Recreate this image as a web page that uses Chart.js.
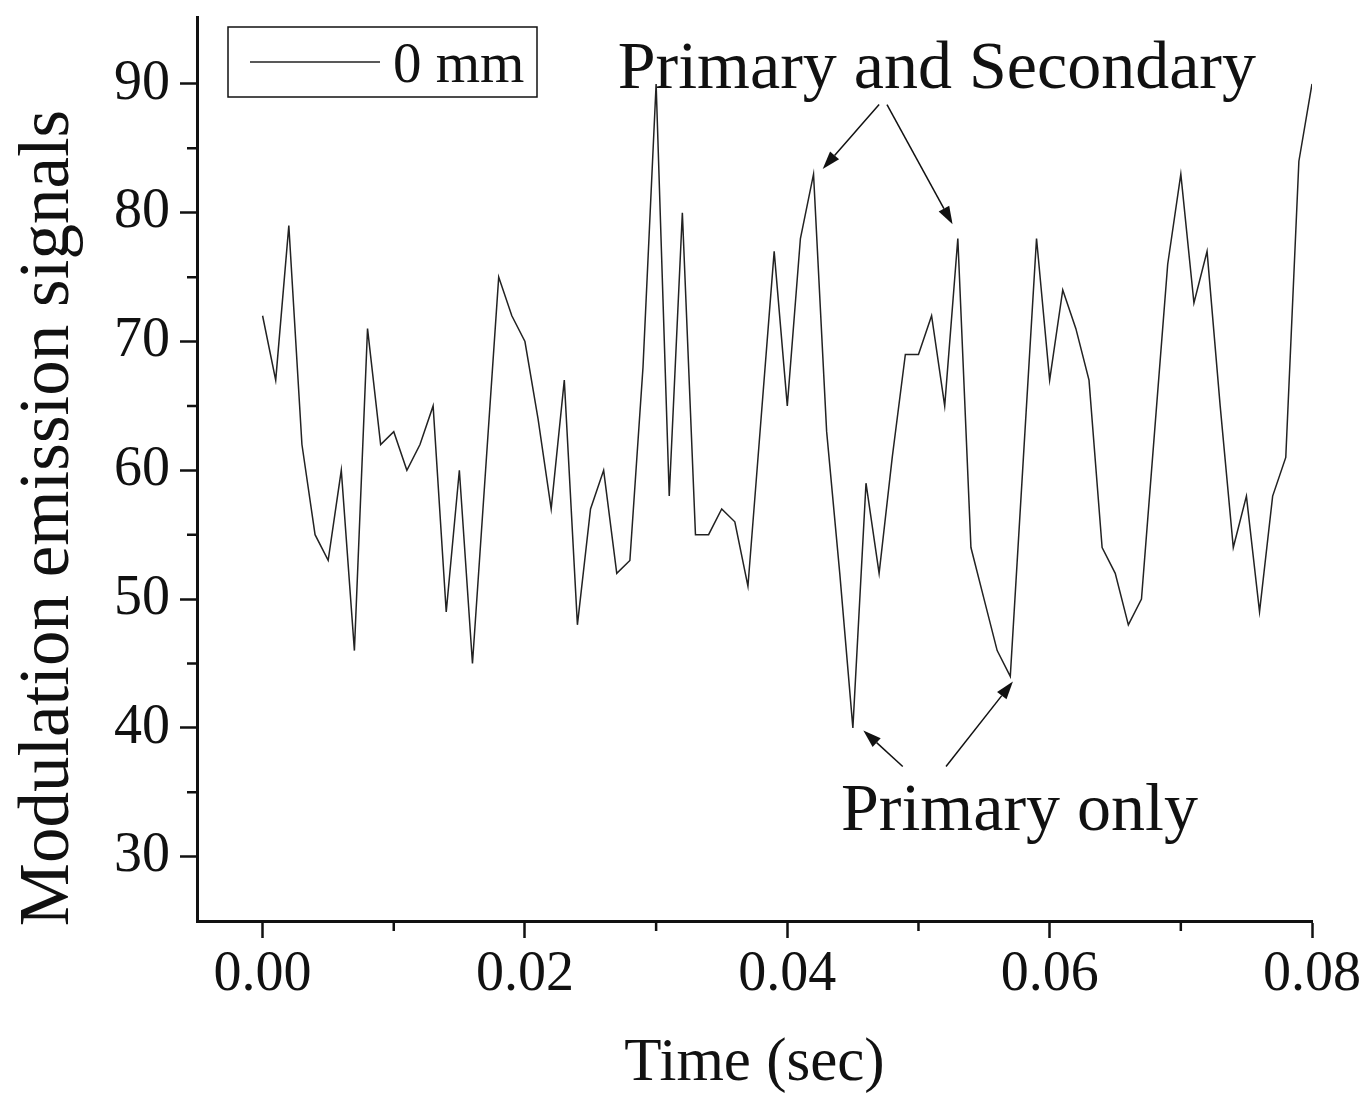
<!DOCTYPE html>
<html>
<head>
<meta charset="utf-8">
<script src="https://cdn.jsdelivr.net/npm/chart.js@4.4.1/dist/chart.umd.min.js"></script>
<style>
  html, body { margin: 0; padding: 0; background: #fff; }
  #wrap { width: 1365px; height: 1095px; position: relative; }
</style>
</head>
<body>
<div id="wrap"><canvas id="signalChart"></canvas></div>
<script>
// Data (one sample every 0.001 s)
const timeSec = [
  0.000, 0.001, 0.002, 0.003, 0.004, 0.005, 0.006, 0.007, 0.008, 0.009,
  0.010, 0.011, 0.012, 0.013, 0.014, 0.015, 0.016, 0.017, 0.018, 0.019,
  0.020, 0.021, 0.022, 0.023, 0.024, 0.025, 0.026, 0.027, 0.028, 0.029,
  0.030, 0.031, 0.032, 0.033, 0.034, 0.035, 0.036, 0.037, 0.038, 0.039,
  0.040, 0.041, 0.042, 0.043, 0.044, 0.045, 0.046, 0.047, 0.048, 0.049,
  0.050, 0.051, 0.052, 0.053, 0.054, 0.055, 0.056, 0.057, 0.058, 0.059,
  0.060, 0.061, 0.062, 0.063, 0.064, 0.065, 0.066, 0.067, 0.068, 0.069,
  0.070, 0.071, 0.072, 0.073, 0.074, 0.075, 0.076, 0.077, 0.078, 0.079,
  0.080
];
const signal = [
  72, 67, 79, 62, 55, 53, 60, 46, 71, 62,
  63, 60, 62, 65, 49, 60, 45, 60, 75, 72,
  70, 64, 57, 67, 48, 57, 60, 52, 53, 68,
  90, 58, 80, 55, 55, 57, 56, 51, 64, 77,
  65, 78, 83, 63, 52, 40, 59, 52, 61, 69,
  69, 72, 65, 78, 54, 50, 46, 44, 61, 78,
  67, 74, 71, 67, 54, 52, 48, 50, 63, 76,
  83, 73, 77, 65, 54, 58, 49, 58, 61, 84,
  90
];
const xTickValues = [0, 0.02, 0.04, 0.06, 0.08];
const xMinorTicks = [0.01, 0.03, 0.05, 0.07];
const yTickValues = [30, 40, 50, 60, 70, 80, 90];
const yMinorTicks = [35, 45, 55, 65, 75, 85];
const seriesLabel = "0 mm";
const xTitle = "Time (sec)";
const yTitle = "Modulation emission signals";

// annotation texts and arrows, in data units: [fromX, fromY, toX, toY]
const notes = [
  { text: "Primary and Secondary", x: 0.0514, y: 89.7,
    arrows: [[0.0470, 88.4, 0.0427, 83.4], [0.0476, 88.4, 0.0526, 79.1]] },
  { text: "Primary only", x: 0.0577, y: 32.1,
    arrows: [[0.0488, 37.0, 0.0458, 39.8], [0.0521, 37.0, 0.0572, 43.6]] }
];

const serif = "'Liberation Serif', 'DejaVu Serif', serif";
const ink = "#111";

function arrow(ctx, x1, y1, x2, y2) {
  const ang = Math.atan2(y2 - y1, x2 - x1);
  const len = 18, half = 6;
  const bx = x2 - len * Math.cos(ang), by = y2 - len * Math.sin(ang);
  ctx.beginPath();
  ctx.moveTo(x1, y1);
  ctx.lineTo(bx, by);
  ctx.stroke();
  ctx.beginPath();
  ctx.moveTo(x2, y2);
  ctx.lineTo(bx + half * Math.sin(ang), by - half * Math.cos(ang));
  ctx.lineTo(bx - half * Math.sin(ang), by + half * Math.cos(ang));
  ctx.closePath();
  ctx.fill();
}

// minor ticks, titles, legend box and the arrows
const decorations = {
  id: "decorations",
  afterDraw(chart) {
    const { ctx, chartArea, scales: { x, y } } = chart;
    ctx.save();
    ctx.strokeStyle = ink;
    ctx.fillStyle = ink;

    ctx.lineWidth = 2.5;
    ctx.beginPath();
    xMinorTicks.forEach(v => {
      const px = x.getPixelForValue(v);
      ctx.moveTo(px, chartArea.bottom);
      ctx.lineTo(px, chartArea.bottom + 10);
    });
    yMinorTicks.forEach(v => {
      const py = y.getPixelForValue(v);
      ctx.moveTo(chartArea.left, py);
      ctx.lineTo(chartArea.left - 10, py);
    });
    ctx.stroke();

    // axis titles
    ctx.textAlign = "center";
    ctx.textBaseline = "alphabetic";
    ctx.font = "61px " + serif;
    ctx.fillText(xTitle, (chartArea.left + chartArea.right) / 2, 1080);
    ctx.save();
    ctx.translate(68, 518);
    ctx.rotate(-Math.PI / 2);
    ctx.font = "71px " + serif;
    ctx.fillText(yTitle, 0, 0);
    ctx.restore();

    // legend
    const lx = chartArea.left + 31, ly = chartArea.top + 10;
    ctx.lineWidth = 1.5;
    ctx.strokeRect(lx, ly, 309, 70);
    ctx.strokeStyle = "#222";
    ctx.lineWidth = 1.5;
    ctx.beginPath();
    ctx.moveTo(lx + 22, ly + 35);
    ctx.lineTo(lx + 152, ly + 35);
    ctx.stroke();
    ctx.textAlign = "left";
    ctx.font = "57px " + serif;
    ctx.fillText(seriesLabel, lx + 165, ly + 55);

    // annotations
    ctx.strokeStyle = ink;
    ctx.lineWidth = 1.5;
    ctx.textAlign = "center";
    ctx.font = "68px " + serif;
    notes.forEach(n => {
      ctx.fillText(n.text, x.getPixelForValue(n.x), y.getPixelForValue(n.y));
      n.arrows.forEach(a => arrow(ctx,
        x.getPixelForValue(a[0]), y.getPixelForValue(a[1]),
        x.getPixelForValue(a[2]), y.getPixelForValue(a[3])));
    });
    ctx.restore();
  }
};

const ctx = document.getElementById("signalChart").getContext("2d");

const signalChart = new Chart(ctx, {
  type: "line",
  data: {
    datasets: [
      {
        label: seriesLabel,
        data: timeSec.map((t, i) => ({ x: t, y: signal[i] })),
        borderColor: "#222",
        borderWidth: 1.5,
        pointRadius: 0,
        tension: 0,
        fill: false,
      },
    ],
  },
  options: {
    responsive: true,
    maintainAspectRatio: false,
    animation: false,
    layout: { padding: { left: 0, top: 17, right: 53, bottom: 0 } },
    scales: {
      x: {
        type: "linear",
        min: -0.005,
        max: 0.08,
        afterBuildTicks: (scale) => { scale.ticks = xTickValues.map(value => ({ value })); },
        afterFit: (scale) => {
          scale.height = 174;
          scale.paddingLeft = 0;
          scale.paddingRight = 0;
        },
        ticks: {
          color: ink,
          font: { family: serif, size: 56 },
          padding: 4,
          maxRotation: 0,
          callback: (v) => Number(v).toFixed(2),
        },
        grid: { drawOnChartArea: false, drawTicks: true, tickLength: 17, tickWidth: 2.5, tickColor: ink },
        border: { display: true, color: ink, width: 3 },
        title: { display: false },
      },
      y: {
        min: 25,
        max: 95.2,
        afterBuildTicks: (scale) => { scale.ticks = yTickValues.map(value => ({ value })); },
        afterFit: (scale) => {
          scale.width = 197;
          scale.paddingTop = 0;
          scale.paddingBottom = 0;
        },
        ticks: {
          color: ink,
          font: { family: serif, size: 56 },
          padding: 10,
          callback: (v) => String(v),
        },
        grid: { drawOnChartArea: false, drawTicks: true, tickLength: 17, tickWidth: 2.5, tickColor: ink },
        border: { display: true, color: ink, width: 3 },
        title: { display: false },
      },
    },
    plugins: {
      legend: { display: false },
      tooltip: { enabled: false },
    },
  },
  plugins: [decorations],
});
</script>
</body>
</html>
